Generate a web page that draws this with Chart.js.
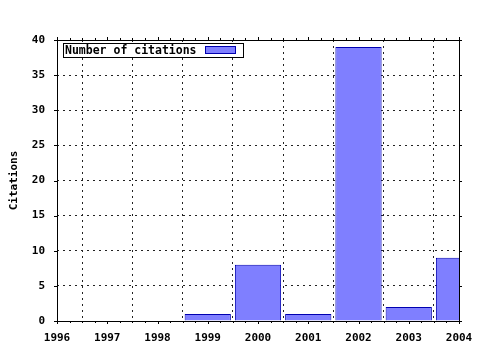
<!DOCTYPE html>
<html>
<head>
<meta charset="utf-8">
<script src="https://cdn.jsdelivr.net/npm/chart.js@4"></script>
<style>
  html, body { margin: 0; padding: 0; background: #fff; }
  #wrap { width: 480px; height: 350px; }
</style>
</head>
<body>
<div id="wrap"><canvas id="chart" width="480" height="350"></canvas></div>
<script>
// data
const years = [1999, 2000, 2001, 2002, 2003, 2004];
const citations = [1, 8, 1, 39, 2, 9];
const seriesLabel = 'Number of citations';
const yTitle = 'Citations';

const FONT = '"DejaVu Sans Mono", monospace';

// gnuplot-like frame: border box, outward ticks, legend box
const framePlugin = {
  id: 'frame',
  afterDatasetsDraw(chart) {
    const { ctx, chartArea: a, scales } = chart;
    ctx.save();
    ctx.strokeStyle = '#000';
    ctx.lineWidth = 1;
    ctx.strokeRect(a.left + 0.5, a.top + 0.5, a.right - a.left, a.bottom - a.top);

    ctx.beginPath();
    // x major + minor ticks (bottom and top, pointing out)
    const xs = scales.x;
    for (let v = xs.min; v <= xs.max + 1e-9; v += 0.25) {
      const px = Math.round(xs.getPixelForValue(v)) + 0.5;
      const len = Math.abs(v - Math.round(v)) < 1e-9 ? 3 : 2;
      ctx.moveTo(px, a.bottom);
      ctx.lineTo(px, a.bottom + len);
      ctx.moveTo(px, a.top);
      ctx.lineTo(px, a.top - len);
    }
    // y ticks (left and right)
    const ys = scales.y;
    ys.ticks.forEach(t => {
      const py = Math.round(ys.getPixelForValue(t.value)) + 0.5;
      ctx.moveTo(a.left, py);
      ctx.lineTo(a.left - 3, py);
      ctx.moveTo(a.right, py);
      ctx.lineTo(a.right + 3, py);
    });
    ctx.stroke();

    // legend
    const lx = 63.5, ly = 43.5, lw = 180, lh = 14;
    ctx.fillStyle = '#fff';
    ctx.fillRect(lx, ly, lw, lh);
    ctx.strokeRect(lx, ly, lw, lh);
    ctx.fillStyle = '#000';
    ctx.font = 'bold 11.5px ' + FONT;
    ctx.textBaseline = 'middle';
    ctx.textAlign = 'left';
    ctx.fillText(chart.data.datasets[0].label, lx + 1.5, ly + lh / 2 + 0.5);
    ctx.fillStyle = '#7f7fff';
    ctx.fillRect(205.5, 46.5, 30, 7);
    ctx.strokeStyle = '#0000b0';
    ctx.strokeRect(205.5, 46.5, 30, 7);
    ctx.restore();
  }
};

new Chart(document.getElementById('chart'), {
  type: 'bar',
  data: {
    datasets: [{
      label: seriesLabel,
      data: years.map((y, i) => ({ x: y, y: citations[i] })),
      backgroundColor: '#7f7fff',
      borderColor: '#0000b0',
      borderWidth: 1,
      barPercentage: 0.92,
      categoryPercentage: 1,
      clip: 0
    }]
  },
  options: {
    responsive: false,
    animation: false,
    layout: { padding: { top: 40, right: 21, left: 0, bottom: 0 } },
    plugins: {
      legend: { display: false },
      tooltip: { enabled: false }
    },
    scales: {
      x: {
        type: 'linear',
        min: 1996,
        max: 2004,
        offset: false,
        afterFit: s => { s.height = 29; s.paddingRight = 0; s.paddingLeft = 0; },
        ticks: {
          stepSize: 1,
          color: '#000',
          padding: 11,
          font: { family: FONT, size: 11, weight: 'bold' },
          callback: v => String(v)
        },
        grid: {
          color: '#222',
          lineWidth: 1,
          drawTicks: false
        },
        border: { display: false, dash: [2, 4] }
      },
      y: {
        min: 0,
        max: 40,
        afterFit: s => { s.width = 57; s.paddingTop = 0; s.paddingBottom = 0; },
        ticks: {
          stepSize: 5,
          color: '#000',
          padding: 12,
          font: { family: FONT, size: 11, weight: 'bold' }
        },
        title: {
          display: true,
          text: yTitle,
          color: '#000',
          padding: { top: 8, bottom: 0 },
          font: { family: FONT, size: 11, weight: 'bold' }
        },
        grid: {
          color: '#222',
          lineWidth: 1,
          drawTicks: false
        },
        border: { display: false, dash: [2, 4] }
      }
    }
  },
  plugins: [framePlugin]
});
</script>
</body>
</html>
